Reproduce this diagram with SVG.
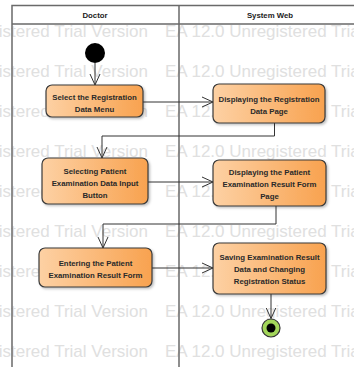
<svg xmlns="http://www.w3.org/2000/svg" width="354" height="367" viewBox="0 0 354 367">
<defs>
<linearGradient id="g" x1="0" y1="0" x2="1" y2="0">
<stop offset="0" stop-color="#fdd1a4"/>
<stop offset="1" stop-color="#f8a24f"/>
</linearGradient>
<marker id="arr" viewBox="0 0 12 12" refX="11" refY="6" markerWidth="12" markerHeight="12" markerUnits="userSpaceOnUse" orient="auto">
<path d="M0,1 L11,6 L0,11" fill="none" stroke="#333" stroke-width="1"/>
</marker>
<filter id="sh" x="-10%" y="-10%" width="130%" height="140%">
<feDropShadow dx="1.5" dy="1.5" stdDeviation="1" flood-color="#000" flood-opacity="0.25"/>
</filter>
</defs>
<style>
.wm{font-family:"Liberation Sans",Arial,sans-serif;font-size:17px;fill:#e0e0e0}
.hd{font-family:"Liberation Sans",Arial,sans-serif;font-size:7.8px;font-weight:bold;fill:#222;text-anchor:middle}
.lb{font-family:"Liberation Sans",Arial,sans-serif;font-size:7.8px;font-weight:bold;fill:#2a2a2a;text-anchor:middle}
.box{fill:url(#g);stroke:#3a3a3a;stroke-width:1.2;filter:url(#sh)}
.ln{fill:none;stroke:#333;stroke-width:1}
.frame{fill:none;stroke:#6a6a6a;stroke-width:1.5}
</style>
<rect width="354" height="367" fill="#ffffff"/>
<g id="watermark">
<text class="wm" x="148" y="37" text-anchor="end">EA 12.0 Unregistered Trial Version</text><text class="wm" x="165" y="37">EA 12.0 Unregistered Trial Version</text>
<text class="wm" x="148" y="77" text-anchor="end">EA 12.0 Unregistered Trial Version</text><text class="wm" x="165" y="77">EA 12.0 Unregistered Trial Version</text>
<text class="wm" x="148" y="117" text-anchor="end">EA 12.0 Unregistered Trial Version</text><text class="wm" x="165" y="117">EA 12.0 Unregistered Trial Version</text>
<text class="wm" x="148" y="157" text-anchor="end">EA 12.0 Unregistered Trial Version</text><text class="wm" x="165" y="157">EA 12.0 Unregistered Trial Version</text>
<text class="wm" x="148" y="197" text-anchor="end">EA 12.0 Unregistered Trial Version</text><text class="wm" x="165" y="197">EA 12.0 Unregistered Trial Version</text>
<text class="wm" x="148" y="237" text-anchor="end">EA 12.0 Unregistered Trial Version</text><text class="wm" x="165" y="237">EA 12.0 Unregistered Trial Version</text>
<text class="wm" x="148" y="277" text-anchor="end">EA 12.0 Unregistered Trial Version</text><text class="wm" x="165" y="277">EA 12.0 Unregistered Trial Version</text>
<text class="wm" x="148" y="317" text-anchor="end">EA 12.0 Unregistered Trial Version</text><text class="wm" x="165" y="317">EA 12.0 Unregistered Trial Version</text>
<text class="wm" x="148" y="357" text-anchor="end">EA 12.0 Unregistered Trial Version</text><text class="wm" x="165" y="357">EA 12.0 Unregistered Trial Version</text>
</g>
<g id="swimlanes">
<path class="frame" d="M12,367 V5.5 H354 M12,24 H354 M179,5.5 V367"/>
<text class="hd" x="95" y="17.5">Doctor</text>
<text class="hd" x="270" y="17.5">System Web</text>
</g>
<g id="connectors">
<path class="ln" d="M95,63 V85" marker-end="url(#arr)"/>
<path class="ln" d="M143,102 H213" marker-end="url(#arr)"/>
<path class="ln" d="M274.5,123 V136 H102 V158" marker-end="url(#arr)"/>
<path class="ln" d="M148,182 H213" marker-end="url(#arr)"/>
<path class="ln" d="M276,206 V224 H103 V248" marker-end="url(#arr)"/>
<path class="ln" d="M152,268 H213" marker-end="url(#arr)"/>
<path class="ln" d="M271,294 V318.5" marker-end="url(#arr)"/>
</g>
<g id="start">
<circle cx="95" cy="53" r="10" fill="#000"/>
</g>
<g id="n1">
<rect class="box" x="46" y="85" width="97" height="32" rx="6"/>
<text class="lb" x="94.5" y="99.5">Select the Registration</text>
<text class="lb" x="94.5" y="111.5">Data Menu</text>
</g>
<g id="n2">
<rect class="box" x="213" y="84" width="112" height="39" rx="6"/>
<text class="lb" x="269" y="102">Displaying the Registration</text>
<text class="lb" x="269" y="114">Data Page</text>
</g>
<g id="n3">
<rect class="box" x="42" y="158" width="106" height="46" rx="6"/>
<text class="lb" x="95" y="174">Selecting Patient</text>
<text class="lb" x="95" y="186">Examination Data Input</text>
<text class="lb" x="95" y="198">Button</text>
</g>
<g id="n4">
<rect class="box" x="213" y="160" width="113" height="46" rx="6"/>
<text class="lb" x="269.5" y="175">Displaying the Patient</text>
<text class="lb" x="269.5" y="187">Examination Result Form</text>
<text class="lb" x="269.5" y="199">Page</text>
</g>
<g id="n5">
<rect class="box" x="39" y="248" width="113" height="39" rx="6"/>
<text class="lb" x="95.5" y="266">Entering the Patient</text>
<text class="lb" x="95.5" y="278">Examination Result Form</text>
</g>
<g id="n6">
<rect class="box" x="213" y="243" width="113" height="51" rx="6"/>
<text class="lb" x="269.5" y="260">Saving Examination Result</text>
<text class="lb" x="269.5" y="272">Data and Changing</text>
<text class="lb" x="269.5" y="284">Registration Status</text>
</g>
<g id="end">
<circle cx="271" cy="328" r="9" fill="#a3d65a" stroke="#333" stroke-width="1.2"/>
<circle cx="271" cy="328" r="4.5" fill="#000"/>
</g>
</svg>
